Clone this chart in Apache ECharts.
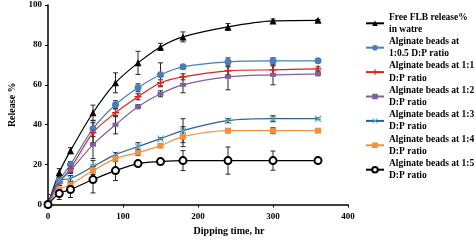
<!DOCTYPE html>
<html>
<head>
<meta charset="utf-8">
<script src="https://cdn.jsdelivr.net/npm/echarts@6/dist/echarts.min.js"></script>
<style>
  html, body { margin: 0; padding: 0; background: #fff; }
  #main { width: 476px; height: 240px; }
</style>
</head>
<body>
<div id="main"></div>
<script>
// sampling times (hr)
var times = [0, 15, 30, 60, 90, 120, 150, 180, 240, 300, 360];

// release % and error (+/-) per formulation
var freeFlb = [0, 16, 27, 46, 61, 71, 79, 84, 89, 92, 92.3];
var freeFlbErr = [3, 2, 1.5, 3.8, 5, 5.8, 1.8, 2.5, 1.7, 1, 0.5];
var ratio05 = [0, 12, 20, 38, 50, 58.5, 65, 69, 71.5, 72, 72];
var ratio05Err = [2, 1.5, 1.5, 4, 2, 2, 6, 1, 2, 1.5, 0.5];
var ratio1 = [0, 11, 18, 36, 46, 54, 61, 64, 67, 67.5, 68];
var ratio1Err = [1, 1.5, 2, 5, 2, 1.5, 1.5, 1.5, 2, 2, 1];
var ratio2 = [0, 11, 17, 30, 40, 49, 55.5, 60, 64, 65, 65.5];
var ratio2Err = [1, 1.5, 1.5, 7, 4.6, 1, 1.5, 4, 6.5, 5, 1];
var ratio3 = [0, 12, 13, 19, 25, 29, 33, 37, 42, 43, 43];
var ratio3Err = [1, 1, 1.5, 3, 1, 2, 0.5, 6, 1, 1.5, 0.5];
var ratio4 = [0, 7.5, 10, 17, 23, 26, 29.5, 34, 37, 37, 37];
var ratio4Err = [1, 1, 1.5, 2, 1.5, 1.5, 1, 5, 1, 1.5, 0.5];
var ratio5 = [0, 5.5, 7.5, 12.5, 17, 20.5, 21.5, 22, 22, 22, 22];
var ratio5Err = [5, 3, 4, 6.7, 5, 1, 1.5, 5, 6.8, 4.8, 0.5];

var xTicks = [0, 100, 200, 300, 400];
var yTicks = [0, 20, 40, 60, 80, 100];

var names = [
    'Free FLB release%\nin watre',
    'Alginate beads at\n1:0.5 D:P ratio',
    'Alginate beads at 1:1\nD:P ratio',
    'Alginate beads at 1:2\nD:P ratio',
    'Alginate beads at 1:3\nD:P ratio',
    'Alginate beads at 1:4\nD:P ratio',
    'Alginate beads at 1:5\nD:P ratio'
];

var font = 'Liberation Serif';

// marker shapes similar to the spreadsheet ones
var plusPath = 'path://M4,0H6V4H10V6H6V10H4V6H0V4H4Z';
var crossPath = 'path://M1,0L5,4L9,0L10,1L6,5L10,9L9,10L5,6L1,10L0,9L4,5L0,1Z';

var looks = [
    { line: '#000000', item: '#000000', symbol: 'triangle', size: 7 },
    { line: '#4a7ebb', item: '#4a7ebb', symbol: 'circle', size: 7 },
    { line: '#e0201b', item: '#e0201b', symbol: plusPath, size: 7 },
    { line: '#7d60a0', item: '#7d60a0', symbol: 'rect', size: [6, 4] },
    { line: '#2a6099', item: '#4bacc6', symbol: crossPath, size: 7 },
    { line: '#f09040', item: '#f09040', symbol: 'rect', size: 6 },
    { line: '#000000', item: '#000000', symbol: 'emptyCircle', size: 7 }
];

var values = [freeFlb, ratio05, ratio1, ratio2, ratio3, ratio4, ratio5];
var errors = [freeFlbErr, ratio05Err, ratio1Err, ratio2Err, ratio3Err, ratio4Err, ratio5Err];

function errRender(params, api) {
    var x = api.value(0);
    var top = api.coord([x, api.value(2)]);
    var bot = api.coord([x, api.value(1)]);
    var w = 2.5;
    var st = { stroke: '#262626', lineWidth: 1 };
    return {
        type: 'group',
        children: [
            { type: 'line', shape: { x1: top[0], y1: top[1], x2: bot[0], y2: bot[1] }, style: st },
            { type: 'line', shape: { x1: top[0] - w, y1: top[1], x2: top[0] + w, y2: top[1] }, style: st },
            { type: 'line', shape: { x1: bot[0] - w, y1: bot[1], x2: bot[0] + w, y2: bot[1] }, style: st }
        ]
    };
}

var series = [];
values.forEach(function (vals, i) {
    var errData = times.map(function (t, j) {
        return [t, vals[j] - errors[i][j], vals[j] + errors[i][j]];
    });
    series.push({
        type: 'custom',
        name: 'err' + i,
        renderItem: errRender,
        data: errData,
        clip: true,
        z: 1,
        silent: true
    });
});
values.forEach(function (vals, i) {
    var lk = looks[i];
    series.push({
        type: 'line',
        name: names[i],
        data: times.map(function (t, j) { return [t, vals[j]]; }),
        smooth: 0.3,
        symbol: lk.symbol,
        symbolSize: lk.size,
        showAllSymbol: true,
        lineStyle: { color: lk.line, width: 1.2 },
        itemStyle: { color: lk.item, borderColor: lk.item, borderWidth: lk.symbol === 'emptyCircle' ? 1 : 0 },
        z: 2
    });
});

var myChart = echarts.init(document.getElementById('main'));
myChart.setOption({
    animation: false,
    grid: { left: 48, right: 128, top: 5, bottom: 35.5, containLabel: false, outerBoundsMode: 'none' },
    legend: {
        data: names,
        orient: 'vertical',
        left: 360,
        top: 0,
        itemWidth: 18,
        itemHeight: 7,
        itemGap: -12.2,
        textStyle: {
            fontFamily: font,
            fontWeight: 'bold',
            fontSize: 9.5,
            lineHeight: 12.2,
            color: '#000',
            padding: [12.2, 0, 0, 0]
        }
    },
    xAxis: {
        type: 'value',
        min: xTicks[0],
        max: xTicks[xTicks.length - 1],
        interval: 100,
        name: 'Dipping time, hr',
        nameLocation: 'middle',
        nameGap: 22,
        nameTextStyle: { fontFamily: font, fontWeight: 'bold', fontSize: 10, color: '#000', padding: [0, 0, 0, 62] },
        axisLine: { lineStyle: { color: '#000', width: 1.5 } },
        axisTick: { length: 3, lineStyle: { color: '#000' } },
        axisLabel: { fontFamily: font, fontWeight: 'bold', fontSize: 9, color: '#000', margin: 8 },
        splitLine: { show: false }
    },
    yAxis: {
        type: 'value',
        min: yTicks[0],
        max: yTicks[yTicks.length - 1],
        interval: 20,
        name: 'Release %',
        nameLocation: 'middle',
        nameGap: 30,
        nameTextStyle: { fontFamily: font, fontWeight: 'bold', fontSize: 10, color: '#000' },
        axisLine: { show: true, lineStyle: { color: '#000', width: 1.5 } },
        axisTick: { show: true, length: 3, lineStyle: { color: '#000' } },
        axisLabel: { fontFamily: font, fontWeight: 'bold', fontSize: 9, color: '#000', margin: 6 },
        splitLine: { show: false }
    },
    series: series
});
</script>
</body>
</html>
